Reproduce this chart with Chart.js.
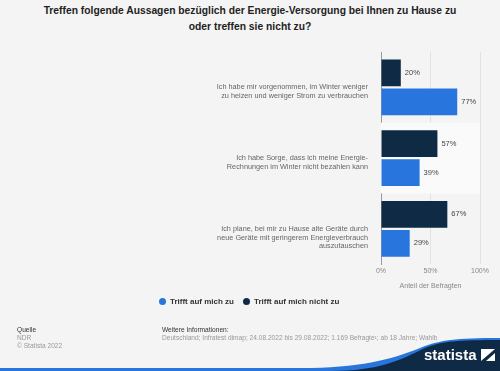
<!DOCTYPE html>
<html>
<head>
<meta charset="utf-8">
<script src="https://cdn.jsdelivr.net/npm/chart.js@4"></script>
<style>
  html, body { margin: 0; padding: 0; }
  body { width: 500px; height: 371px; background: #f4f4f4; position: relative; overflow: hidden;
         font-family: 'Liberation Sans', Arial, sans-serif; }
  #title { position: absolute; left: 0; top: 3px; width: 500px; text-align: center; font-weight: bold;
           font-size: 10.3px; line-height: 16px; color: #222; }
  #wrap { position: absolute; left: 0; top: 0; width: 500px; height: 371px; }
  .legend { position: absolute; top: 297px; font-size: 8px; font-weight: bold; color: #333; white-space: nowrap; }
  .legend span.dot { display: inline-block; width: 7px; height: 7px; border-radius: 50%; vertical-align: -1px; margin-right: 4px; }
  .foot { position: absolute; font-size: 6.6px; line-height: 8px; color: #999; white-space: nowrap; }
  .foot b { font-weight: normal; color: #333; }
</style>
</head>
<body>
<div id="title">Treffen folgende Aussagen bezüglich der Energie-Versorgung bei Ihnen zu Hause zu<br>oder treffen sie nicht zu?</div>
<div id="wrap"><canvas id="myChart"></canvas></div>
<div class="legend" style="left:159px"><span class="dot" style="background:#2876dd"></span>Trifft auf mich zu</div>
<div class="legend" style="left:243px"><span class="dot" style="background:#0f2a45"></span>Trifft auf mich nicht zu</div>
<div class="foot" style="left:17px; top:326px"><b>Quelle</b><br>NDR<br>© Statista 2022</div>
<div class="foot" style="left:162px; top:326px"><b>Weitere Informationen:</b><br>Deutschland; Infratest dimap; 24.08.2022 bis 29.08.2022; 1.169 Befragte¹; ab 18 Jahre; Wahlb</div>
<svg style="position:absolute;left:0;top:330px" width="500" height="41">
  <path d="M0 38 L300 38 C360 38 390 30 420 18 C440 10 455 8 500 8 L500 41 L0 41 Z" fill="#2876dd"/>
  <path d="M330 41 C380 41 400 30 425 18 C442 11 458 10 500 10 L500 41 Z" fill="#0f2a45"/>
  <text x="424" y="30" fill="#fff" font-family="'Liberation Sans', Arial, sans-serif" font-size="15" font-weight="bold">statista</text>
  <path d="M481 19 L495 19 L495 31 L481 31 Z" fill="#fff"/>
  <path d="M481 31 L495 19 L495 23 L486 31 Z" fill="#0f2a45"/>
</svg>

<script>
// leading empty lines push each label down so its first line sits at the category centre
const categories = [
  ['', 'Ich habe mir vorgenommen, im Winter weniger', 'zu heizen und weniger Strom zu verbrauchen'],
  ['', 'Ich habe Sorge, dass ich meine Energie-', 'Rechnungen im Winter nicht bezahlen kann'],
  ['', '', 'Ich plane, bei mir zu Hause alte Geräte durch', 'neue Geräte mit geringerem Energieverbrauch', 'auszutauschen']
];
const trifftNichtZu = [20, 57, 67];
const trifftZu = [77, 39, 29];
const xTicks = [0, 50, 100];

const fontFamily = "'Liberation Sans', Arial, sans-serif";

const bandPlugin = {
  id: 'band',
  beforeDatasetsDraw(chart) {
    const { ctx, chartArea, scales } = chart;
    const y = scales.y;
    const step = (chartArea.bottom - chartArea.top) / categories.length;
    ctx.save();
    ctx.fillStyle = '#fafafa';
    const c = y.getPixelForValue(1);
    ctx.fillRect(chartArea.left, c - step / 2, chartArea.right - chartArea.left, step);
    ctx.restore();
  }
};

const valuePlugin = {
  id: 'values',
  afterDatasetsDraw(chart) {
    const ctx = chart.ctx;
    ctx.save();
    ctx.font = '7.5px ' + fontFamily;
    ctx.fillStyle = '#444';
    ctx.textBaseline = 'middle';
    chart.data.datasets.forEach((ds, i) => {
      chart.getDatasetMeta(i).data.forEach((el, j) => {
        ctx.fillText(ds.data[j] + '%', el.x + 4, el.y);
      });
    });
    ctx.restore();
  }
};

const ctx = document.getElementById('myChart').getContext('2d');
const myChart = new Chart(ctx, {
  type: 'bar',
  data: {
    labels: categories,
    datasets: [{
      label: 'Trifft auf mich nicht zu',
      data: trifftNichtZu,
      backgroundColor: '#0f2a45',
      barPercentage: 0.92,
      categoryPercentage: 0.82
    }, {
      label: 'Trifft auf mich zu',
      data: trifftZu,
      backgroundColor: '#2876dd',
      barPercentage: 0.92,
      categoryPercentage: 0.82
    }]
  },
  options: {
    indexAxis: 'y',
    animation: false,
    responsive: true,
    maintainAspectRatio: false,
    layout: { padding: { top: 52, left: 0, right: 20, bottom: 81 } },
    plugins: {
      legend: { display: false },
      tooltip: { enabled: false }
    },
    scales: {
      x: {
        min: 0,
        max: 100,
        afterBuildTicks: (scale) => { scale.ticks = xTicks.map(v => ({ value: v })); },
        ticks: {
          color: '#888',
          font: { size: 7, family: fontFamily },
          padding: 3,
          callback: (v) => v + '%'
        },
        grid: {
          color: (c) => c.tick && c.tick.value === 0 ? 'rgba(0,0,0,0)' : '#e2e2e2',
          drawTicks: false
        },
        border: { display: false },
        title: {
          display: true,
          text: 'Anteil der Befragten',
          color: '#888',
          font: { size: 7, family: fontFamily },
          padding: { top: 3, bottom: 0 }
        }
      },
      y: {
        afterFit: (scale) => { scale.width = 381; },
        ticks: {
          color: '#666',
          font: { size: 7.3, family: fontFamily, lineHeight: 1.2 },
          padding: 5
        },
        grid: { display: false },
        border: { display: true, color: '#999' }
      }
    }
  },
  plugins: [bandPlugin, valuePlugin]
});
</script>
</body>
</html>
